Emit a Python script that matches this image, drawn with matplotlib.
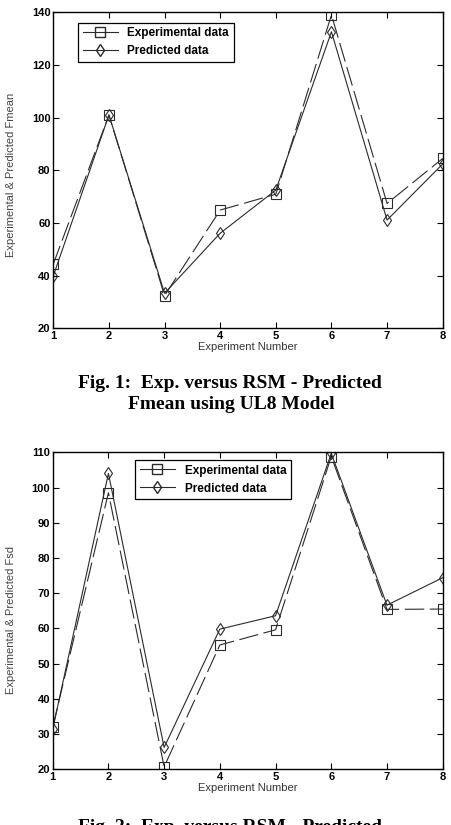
import matplotlib
matplotlib.use("Agg")
import matplotlib.pyplot as plt
from matplotlib.lines import Line2D

# Experiment numbers 1..8
experiments = [1, 2, 3, 4, 5, 6, 7, 8]

# Fig. 1 - Fmean
fmean_exp = [44.4, 101.0, 32.4, 64.9, 70.9, 139.0, 67.4, 84.5]
fmean_pred = [39.9, 101.0, 33.3, 56.1, 72.5, 132.6, 61.1, 82.4]

# Fig. 2 - Fsd
fsd_exp = [31.9, 98.5, 20.7, 55.3, 59.6, 108.8, 65.4, 65.5]
fsd_pred = [31.4, 104.0, 26.2, 59.8, 63.6, 109.7, 66.6, 74.4]

plt.rcParams["lines.scale_dashes"] = False
plt.rcParams["font.family"] = ["Liberation Sans", "DejaVu Sans"]

W, H = 451, 825
fig = plt.figure(figsize=(W / 100, H / 100), dpi=100)
line_col = "#2a2a2a"


def px_axes(left, top, right, bottom):
    return fig.add_axes([left / W, 1 - bottom / H, (right - left) / W, (bottom - top) / H])


def draw(ax, exp, pred, ylim, yticks, leg_anchor):
    ax.plot(experiments, exp, color=line_col, lw=0.8, dashes=(14, 4),
            marker="s", ms=7, mfc="none", mec=line_col, mew=0.8)
    ax.plot(experiments, pred, color=line_col, lw=0.8,
            marker="d", ms=6, mfc="none", mec=line_col, mew=0.8)
    ax.set_xlim(1, 8)
    ax.set_ylim(*ylim)
    ax.set_xticks(experiments)
    ax.set_yticks(yticks)
    ax.tick_params(direction="in", length=4, width=0.8, top=True, right=True,
                   labelsize=8, pad=2)
    for lab in ax.get_xticklabels() + ax.get_yticklabels():
        lab.set_fontweight("bold")
    for s in ax.spines.values():
        s.set_linewidth(1.0)
    ax.set_xlabel("Experiment Number", fontsize=8, color="#333333", labelpad=1)
    handles = [
        Line2D([], [], color=line_col, lw=0.8, marker="s", ms=7, mfc="none", mec=line_col),
        Line2D([], [], color=line_col, lw=0.8, marker="d", ms=6, mfc="none", mec=line_col),
    ]
    leg = ax.legend(handles, ["Experimental data", "Predicted data"], loc="upper left",
                    bbox_to_anchor=leg_anchor, borderaxespad=0, fancybox=False,
                    framealpha=1, edgecolor="black", handlelength=3.0,
                    prop={"size": 8.5, "weight": "bold"})
    leg.get_frame().set_linewidth(0.9)


ax1 = px_axes(53.3, 12.3, 442.7, 328.3)
draw(ax1, fmean_exp, fmean_pred, (20, 140), range(20, 141, 20), (0.063, 0.967))

ax2 = px_axes(52.7, 452.3, 442.7, 769.3)
draw(ax2, fsd_exp, fsd_pred, (20, 110), range(20, 111, 10), (0.211, 0.976))

ylab = dict(rotation=90, ha="center", va="center", fontsize=8, color="#444444")
fig.text(11 / W, 1 - 175 / H, "Experimental & Predicted Fmean", **ylab)
fig.text(11 / W, 1 - 620 / H, "Experimental & Predicted Fsd", **ylab)

cap = dict(ha="center", va="center", fontsize=14, fontweight="bold",
           family=["Liberation Serif", "DejaVu Serif"])
fig.text(230 / W, 1 - 384 / H, "Fig. 1:  Exp. versus RSM - Predicted", **cap)
fig.text(231 / W, 1 - 404 / H, "Fmean using UL8 Model", **cap)
fig.text(230 / W, 1 - 828 / H, "Fig. 2:  Exp. versus RSM - Predicted", **cap)

fig.savefig("out.png", dpi=100)
